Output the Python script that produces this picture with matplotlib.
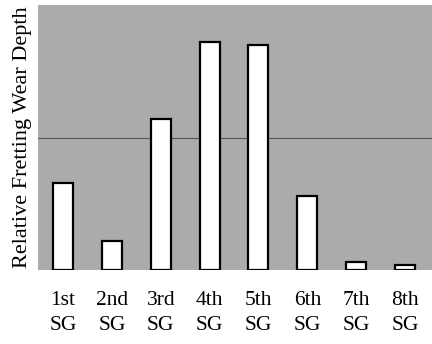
import matplotlib
matplotlib.use('Agg')
import matplotlib.pyplot as plt
import numpy as np

# relative wear depth per steam generator
categories = ['1st\nSG', '2nd\nSG', '3rd\nSG', '4th\nSG', '5th\nSG', '6th\nSG', '7th\nSG', '8th\nSG']
wear_depth = [0.33, 0.11, 0.57, 0.86, 0.85, 0.28, 0.03, 0.02]

plt.rcParams['font.family'] = ['Liberation Serif', 'DejaVu Serif']

fig = plt.figure(figsize=(4.32, 3.44), dpi=100)
ax = fig.add_axes([0.088, 0.215, 0.912, 0.770])
ax.set_facecolor('#ababab')

x = np.arange(len(categories))
ax.axhline(0.5, color='#555555', linewidth=0.8, zorder=1)
ax.bar(x, wear_depth, width=0.41, color='white', edgecolor='black', linewidth=1.6, zorder=2)

ax.set_xlim(-0.51, 7.55)
ax.set_ylim(0, 1)
ax.set_xticks(x)
ax.set_xticklabels(categories, fontsize=15.5, linespacing=1.45)
ax.set_yticks([])
ax.tick_params(axis='x', length=0, pad=15)
for s in ax.spines.values():
    s.set_visible(False)

ax.set_ylabel('Relative Fretting Wear Depth', fontsize=16, labelpad=4)

fig.savefig('out.png', dpi=100)
